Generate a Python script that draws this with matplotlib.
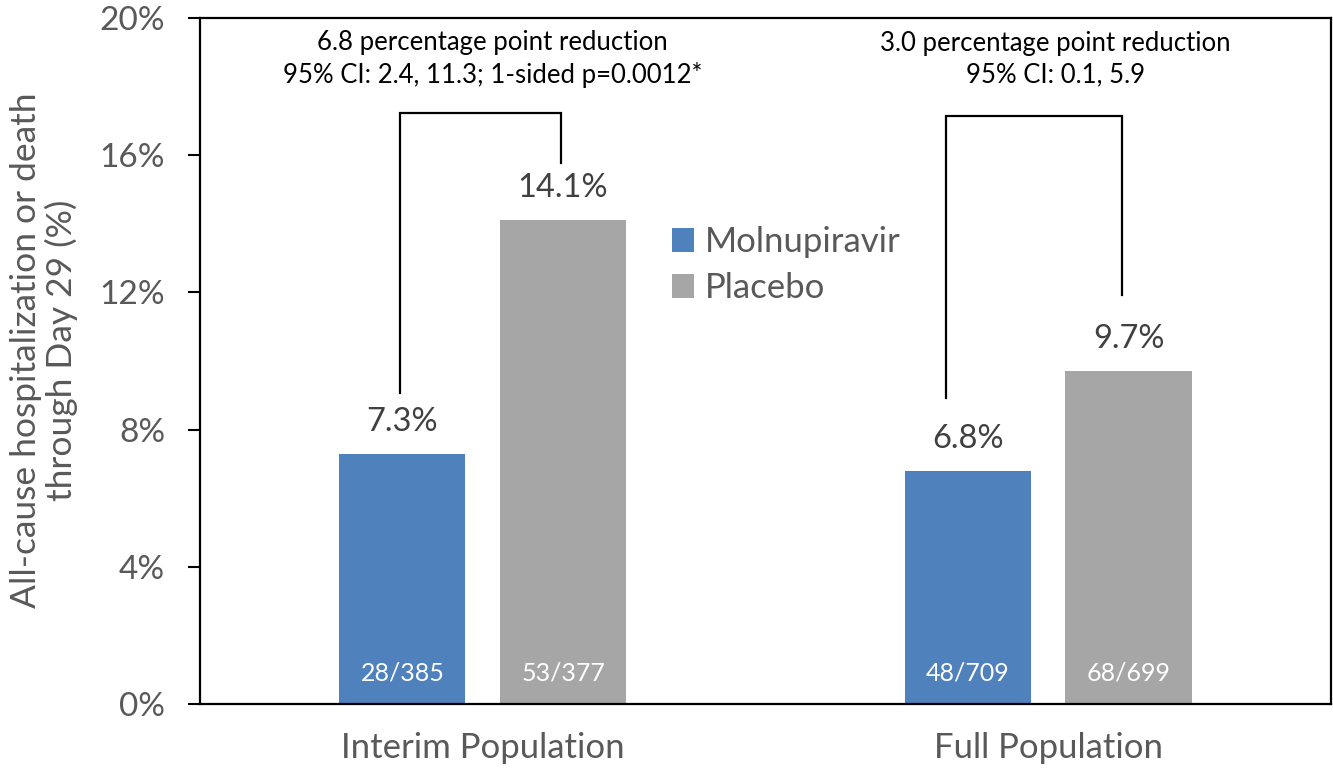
import matplotlib
matplotlib.use("Agg")
import matplotlib.pyplot as plt
import numpy as np

plt.rcParams['font.family'] = ['Lato', 'DejaVu Sans']

categories = ["Interim Population", "Full Population"]
series_names = ["Molnupiravir", "Placebo"]
molnupiravir = [7.3, 6.8]
placebo = [14.1, 9.7]
mol_counts = ["28/385", "48/709"]
pla_counts = ["53/377", "68/699"]
reductions = ["6.8 percentage point reduction\n95% CI: 2.4, 11.3; 1-sided p=0.0012*",
              "3.0 percentage point reduction\n95% CI: 0.1, 5.9"]
# bracket: (left x offset, left bottom y, top y, right x offset, right bottom y)
brackets = [(-0.146, 9.07, 17.23, 0.139, 15.77),
            (-0.181, 8.92, 17.14, 0.130, 11.92)]
yticks = [0, 4, 8, 12, 16, 20]
ytick_labels = ["0%", "4%", "8%", "12%", "16%", "20%"]

blue = "#4F81BD"
grey = "#A6A6A6"

fig = plt.figure(figsize=(13.33, 7.71), dpi=100)
ax = fig.add_axes([0.150, 0.0869, 0.8485, 0.8898])

x = np.arange(len(categories))
w = 0.223
off = 0.142
ax.bar(x - off, molnupiravir, w, color=blue, label=series_names[0])
ax.bar(x + off, placebo, w, color=grey, label=series_names[1])

for xi, v in zip(x - off, molnupiravir):
    ax.annotate(f"{v:.1f}%", (xi, v), xytext=(0, 23), textcoords="offset points",
                ha="center", va="center", fontsize=23.5, color="#404040")
for xi, v in zip(x + off, placebo):
    ax.annotate(f"{v:.1f}%", (xi, v), xytext=(0, 23), textcoords="offset points",
                ha="center", va="center", fontsize=23.5, color="#404040")
for xi, t in zip(x - off, mol_counts):
    ax.text(xi, 0.9, t, ha="center", va="center", fontsize=18, color="white")
for xi, t in zip(x + off, pla_counts):
    ax.text(xi, 0.9, t, ha="center", va="center", fontsize=18, color="white")

for xi, (lx, ly, ty, rx, ry) in zip(x, brackets):
    ax.plot([xi + lx, xi + lx, xi + rx, xi + rx], [ly, ty, ty, ry],
            color="black", lw=1.6, solid_joinstyle="miter")

for xi, t, dx in zip(x, reductions, [0.017, 0.013]):
    ax.text(xi + dx, 18.8, t, ha="center", va="center", fontsize=18.5,
            color="black", linespacing=1.3)

ax.set_xlim(-0.5, 1.5)
ax.set_ylim(0, 20)
ax.set_yticks(yticks)
ax.set_yticklabels(ytick_labels)
ax.set_xticks(x)
ax.set_xticklabels(categories)
ax.tick_params(axis="y", direction="out", length=9, width=1.5, labelsize=24,
               labelcolor="#595959", pad=16)
ax.tick_params(axis="x", length=0, labelsize=25, labelcolor="#595959", pad=20)
for s in ax.spines.values():
    s.set_linewidth(1.6)
    s.set_color("black")

ax.set_ylabel("All-cause hospitalization or death\nthrough Day 29 (%)", fontsize=25.5,
              color="#595959", linespacing=1.1)
ax.yaxis.set_label_coords(-0.108, 0.515)

ax.legend(loc="upper left", bbox_to_anchor=(0.417, 0.697), frameon=False,
          fontsize=25, handlelength=0.65, handleheight=0.7, handletextpad=0.3,
          labelspacing=0.42, borderpad=0, borderaxespad=0, labelcolor="#595959")

fig.savefig("out.png", dpi=100)
